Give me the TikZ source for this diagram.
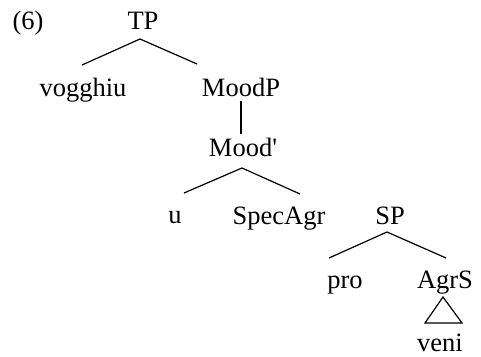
\documentclass[tikz,border=0pt]{standalone}
\usepackage{fontspec}
\setmainfont{Liberation Serif}
\usetikzlibrary{calc}
\tikzset{lbl/.style={anchor=base,inner sep=0pt,font=\fontsize{13.25}{16}\selectfont}}
\begin{document}
\begin{tikzpicture}[x=0.5pt,y=-0.5pt,line width=0.6pt]
  \useasboundingbox (0,0) rectangle (481,357);
  \node [lbl] (ex) at (28,30) {(6)};
  \node [lbl] (tp) at (143,30) {TP};
  \node [lbl] (vog) at (83,97) {vogghiu};
  \node [lbl] (moodp) at (241,97) {MoodP};
  \node [lbl] (moodbar) at (243,157) {Mood\textquotesingle};
  \node [lbl] (u) at (175,224) {u};
  \node [lbl] (specagr) at (279,225) {SpecAgr};
  \node [lbl] (sp) at (390,225) {SP};
  \node [lbl] (pro) at (345,289) {pro};
  \node [lbl] (agrs) at (445,289) {AgrS};
  \node [lbl] (veni) at (440,351) {veni};
  % branches
  \draw ($(tp.base)+(-3,9)$) -- ($(vog.base)+(-1,-32)$);
  \draw ($(tp.base)+(-3,9)$) -- ($(moodp.base)+(-44,-33)$);
  \draw ($(moodp.base)+(0,4)$) -- ($(moodbar.base)+(-2,-23)$);
  \draw ($(moodbar.base)+(-1,11)$) -- ($(u.base)+(9,-31)$);
  \draw ($(moodbar.base)+(-1,11)$) -- ($(specagr.base)+(21,-31)$);
  \draw ($(sp.base)+(-3,7)$) -- ($(pro.base)+(-16,-31)$);
  \draw ($(sp.base)+(-3,7)$) -- ($(agrs.base)+(1,-31)$);
  % triangle over veni
  \draw ($(agrs.base)+(-2,8)$) -- ($(veni.base)+(-15,-28)$) -- ($(veni.base)+(22,-28)$) -- cycle;
\end{tikzpicture}
\end{document}
